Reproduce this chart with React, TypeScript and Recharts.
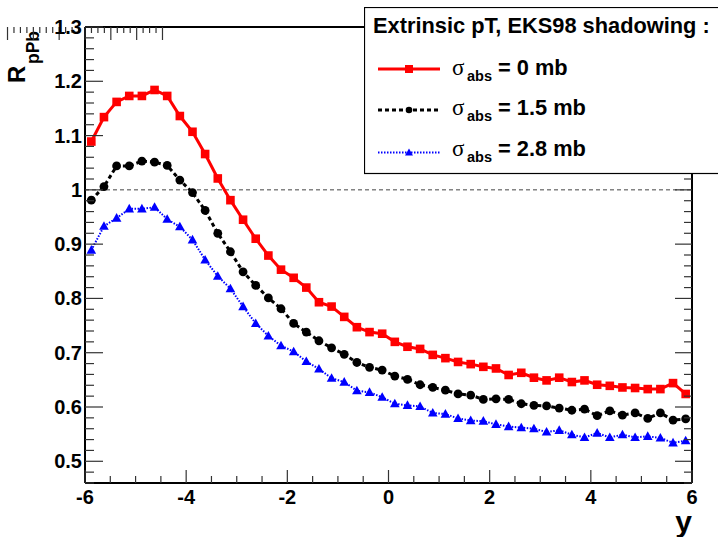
import { Legend, Line, LineChart, ReferenceLine, XAxis, YAxis } from "recharts";

const FONT = "'Liberation Sans', Arial, Helvetica, sans-serif";

// rapidity bin centres
const binCenters = [
  -5.875, -5.625, -5.375, -5.125, -4.875, -4.625, -4.375, -4.125, -3.875, -3.625, -3.375, -3.125,
  -2.875, -2.625, -2.375, -2.125, -1.875, -1.625, -1.375, -1.125, -0.875, -0.625, -0.375, -0.125,
  0.125, 0.375, 0.625, 0.875, 1.125, 1.375, 1.625, 1.875, 2.125, 2.375, 2.625, 2.875, 3.125, 3.375,
  3.625, 3.875, 4.125, 4.375, 4.625, 4.875, 5.125, 5.375, 5.625, 5.875,
];

const sigma0 = [
  1.089, 1.134, 1.162, 1.173, 1.173, 1.184, 1.173, 1.136, 1.107, 1.066, 1.021, 0.981, 0.945, 0.91,
  0.879, 0.853, 0.838, 0.82, 0.793, 0.785, 0.766, 0.747, 0.738, 0.735, 0.72, 0.711, 0.707, 0.696,
  0.69, 0.683, 0.679, 0.674, 0.671, 0.659, 0.663, 0.654, 0.649, 0.654, 0.646, 0.649, 0.641, 0.639,
  0.636, 0.635, 0.633, 0.633, 0.644, 0.624,
];

const sigma15 = [
  0.981, 1.006, 1.044, 1.044, 1.053, 1.051, 1.045, 1.018, 0.995, 0.962, 0.92, 0.886, 0.849, 0.824,
  0.801, 0.781, 0.754, 0.738, 0.722, 0.709, 0.697, 0.682, 0.673, 0.668, 0.657, 0.651, 0.641, 0.636,
  0.631, 0.624, 0.622, 0.614, 0.615, 0.614, 0.606, 0.603, 0.602, 0.598, 0.594, 0.596, 0.584, 0.593,
  0.585, 0.589, 0.579, 0.589, 0.576, 0.578,
];

const sigma28 = [
  0.889, 0.933, 0.948, 0.965, 0.965, 0.968, 0.946, 0.932, 0.908, 0.871, 0.841, 0.818, 0.785, 0.754,
  0.731, 0.713, 0.702, 0.684, 0.67, 0.653, 0.646, 0.63, 0.627, 0.618, 0.606, 0.603, 0.601, 0.589,
  0.587, 0.579, 0.575, 0.574, 0.568, 0.564, 0.562, 0.56, 0.554, 0.557, 0.549, 0.544, 0.552, 0.544,
  0.549, 0.544, 0.546, 0.543, 0.534, 0.538,
];

const xMajorTicks = [-6, -4, -2, 0, 2, 4, 6];
const yMajorTicks = [0.5, 0.6, 0.7, 0.8, 0.9, 1, 1.1, 1.2, 1.3];
const yTickLabels = ["0.5", "0.6", "0.7", "0.8", "0.9", "1", "1.1", "1.2", "1.3"];

const legendTitle = "Extrinsic pT, EKS98 shadowing :";
const legendValues = ["0 mb", "1.5 mb", "2.8 mb"];

const rows = binCenters.map((y, i) => ({
  y,
  s0: sigma0[i],
  s15: sigma15[i],
  s28: sigma28[i],
}));

// minor ticks between the labelled ones
function withMinors(majors: number[], parts: number, lo: number, hi: number) {
  const step = (majors[1] - majors[0]) / parts;
  const out: number[] = [];
  for (let v = majors[0] - step * 10; v <= hi + 1e-9; v += step) {
    if (v >= lo - 1e-9) out.push(Math.round(v * 1000) / 1000);
  }
  return out;
}

const xTicks = withMinors(xMajorTicks, 4, -6, 6);
const yTicks = withMinors(yMajorTicks, 5, 0.46, 1.3);

const isMajor = (list: number[], v: number) => list.some((m) => Math.abs(m - v) < 1e-6);

function Tick(props: any) {
  const { x, y, payload, side } = props;
  const v = payload.value as number;
  const horiz = side === "bottom" || side === "top";
  const major = isMajor(horiz ? xMajorTicks : yMajorTicks, v);
  const stroke = { stroke: "#333", strokeWidth: 1.2 };
  if (side === "bottom") {
    const len = major ? 13 : 7;
    return (
      <g>
        <line x1={x} y1={y} x2={x} y2={y - len} {...stroke} />
        {major && (
          <text x={x} y={y + 21} textAnchor="middle" fontFamily={FONT} fontWeight="bold" fontSize={20} fill="#000">
            {String(v)}
          </text>
        )}
      </g>
    );
  }
  if (side === "top") {
    const len = major ? 13 : 6;
    return <line x1={x} y1={y} x2={x} y2={y + len} {...stroke} />;
  }
  if (side === "left") {
    const len = major ? 18 : 9;
    const idx = yMajorTicks.findIndex((m) => Math.abs(m - v) < 1e-6);
    return (
      <g>
        <line x1={x} y1={y} x2={x + len} y2={y} {...stroke} />
        {major && (
          <text x={x - 3} y={y + 7} textAnchor="end" fontFamily={FONT} fontWeight="bold" fontSize={20} fill="#000">
            {yTickLabels[idx]}
          </text>
        )}
      </g>
    );
  }
  const len = major ? 17 : 8;
  return <line x1={x} y1={y} x2={x - len} y2={y} {...stroke} />;
}

function Square(props: any) {
  const { cx, cy, index } = props;
  return <rect key={`sq-${index}`} x={cx - 4.3} y={cy - 4.3} width={8.6} height={8.6} fill="#ff0000" />;
}

function Circle(props: any) {
  const { cx, cy, index } = props;
  return <circle key={`ci-${index}`} cx={cx} cy={cy} r={4.4} fill="#000" />;
}

function Triangle(props: any) {
  const { cx, cy, index } = props;
  return (
    <polygon
      key={`tr-${index}`}
      points={`${cx},${cy - 5} ${cx - 4.8},${cy + 3.6} ${cx + 4.8},${cy + 3.6}`}
      fill="#0000ff"
    />
  );
}

function YTitle() {
  return (
    <g transform="translate(25, 83) rotate(-90)">
      <text x={0} y={0} fontFamily={FONT} fontWeight="bold" fontSize={24} fill="#000">
        R
      </text>
      <text x={19} y={13.5} fontFamily={FONT} fontWeight="bold" fontSize={17.5} fill="#000">
        pPb
      </text>
    </g>
  );
}

function XTitle() {
  return (
    <text x={692} y={532} textAnchor="end" fontFamily={FONT} fontWeight="bold" fontSize={30} fill="#000">
      y
    </text>
  );
}

const legendStyles = [
  { color: "#ff0000", dash: undefined, width: 3, marker: "square" },
  { color: "#000000", dash: "4 3", width: 3, marker: "circle" },
  { color: "#0000ff", dash: "1.5 1.5", width: 2, marker: "triangle" },
];

function LegendBox() {
  const lineY = [62, 103, 145.5];
  const baseY = [67.5, 108, 149];
  return (
    <svg width={360} height={168} style={{ display: "block" }}>
      <rect x={0.5} y={0.5} width={380} height={166} fill="#fff" stroke="#000" strokeWidth={1.2} />
      <text x={9} y={26} fontFamily={FONT} fontWeight="bold" fontSize={21.8} fill="#000">
        {legendTitle}
      </text>
      {legendValues.map((val, i) => {
        const st = legendStyles[i];
        const ly = lineY[i];
        const by = baseY[i];
        return (
          <g key={val}>
            <line x1={14} y1={ly} x2={76} y2={ly} stroke={st.color} strokeWidth={st.width} strokeDasharray={st.dash} />
            {st.marker === "square" && <rect x={41} y={ly - 4} width={8} height={8} fill={st.color} />}
            {st.marker === "circle" && <circle cx={45} cy={ly} r={3.3} fill={st.color} />}
            {st.marker === "triangle" && (
              <polygon points={`45,${ly - 4} 41,${ly + 3} 49,${ly + 3}`} fill={st.color} />
            )}
            <text x={88} y={by} fontFamily="'Liberation Serif', 'Times New Roman', serif" fontSize={23} fill="#000">
              σ
            </text>
            <text x={103} y={by + 6} fontFamily={FONT} fontWeight="bold" fontSize={14.5} fill="#000">
              abs
            </text>
            <text x={134} y={by} fontFamily={FONT} fontWeight="bold" fontSize={21.8} fill="#000">
              {`= ${val}`}
            </text>
          </g>
        );
      })}
    </svg>
  );
}

export default function App() {
  return (
    <div style={{ position: "absolute", left: 0, top: 0, width: 718, height: 537, background: "#fff" }}>
      <LineChart width={718} height={537} data={rows} margin={{ top: 0, right: 0, bottom: 0, left: 0 }}>
        <XAxis
          dataKey="y"
          type="number"
          domain={[-6, 6]}
          ticks={xTicks}
          interval={0}
          allowDataOverflow
          height={54}
          tickSize={0}
          tickMargin={0}
          tickLine={false}
          axisLine={{ stroke: "#000", strokeWidth: 2 }}
          tick={(p: any) => <Tick {...p} side="bottom" />}
          label={{ content: () => <XTitle /> }}
        />
        <XAxis
          xAxisId="top"
          orientation="top"
          type="number"
          domain={[-6, 6]}
          ticks={xTicks}
          interval={0}
          allowDataOverflow
          height={27}
          tickSize={0}
          tickMargin={0}
          tickLine={false}
          axisLine={{ stroke: "#000", strokeWidth: 2 }}
          tick={(p: any) => <Tick {...p} side="top" />}
        />
        <YAxis
          type="number"
          domain={[0.46, 1.3]}
          ticks={yTicks}
          interval={0}
          allowDataOverflow
          width={85}
          tickSize={0}
          tickMargin={0}
          tickLine={false}
          axisLine={{ stroke: "#000", strokeWidth: 2 }}
          tick={(p: any) => <Tick {...p} side="left" />}
          label={{ content: () => <YTitle /> }}
        />
        <YAxis
          yAxisId="right"
          orientation="right"
          type="number"
          domain={[0.46, 1.3]}
          ticks={yTicks}
          interval={0}
          allowDataOverflow
          width={26}
          tickSize={0}
          tickMargin={0}
          tickLine={false}
          axisLine={{ stroke: "#000", strokeWidth: 2 }}
          tick={(p: any) => <Tick {...p} side="right" />}
        />
        <ReferenceLine y={1} stroke="#444" strokeWidth={1} strokeDasharray="4 3" />
        <Line
          dataKey="s0"
          type="linear"
          stroke="#ff0000"
          strokeWidth={3}
          dot={Square}
          activeDot={false}
          isAnimationActive={false}
        />
        <Line
          dataKey="s15"
          type="linear"
          stroke="#000"
          strokeWidth={3}
          strokeDasharray="4 3"
          dot={Circle}
          activeDot={false}
          isAnimationActive={false}
        />
        <Line
          dataKey="s28"
          type="linear"
          stroke="#0000ff"
          strokeWidth={2}
          strokeDasharray="1.5 1.5"
          dot={Triangle}
          activeDot={false}
          isAnimationActive={false}
        />
        <Legend
          layout="horizontal"
          verticalAlign="middle"
          align="center"
          wrapperStyle={{ left: 364, top: 7, width: 360, height: 168 }}
          content={() => <LegendBox />}
        />
      </LineChart>
    </div>
  );
}
